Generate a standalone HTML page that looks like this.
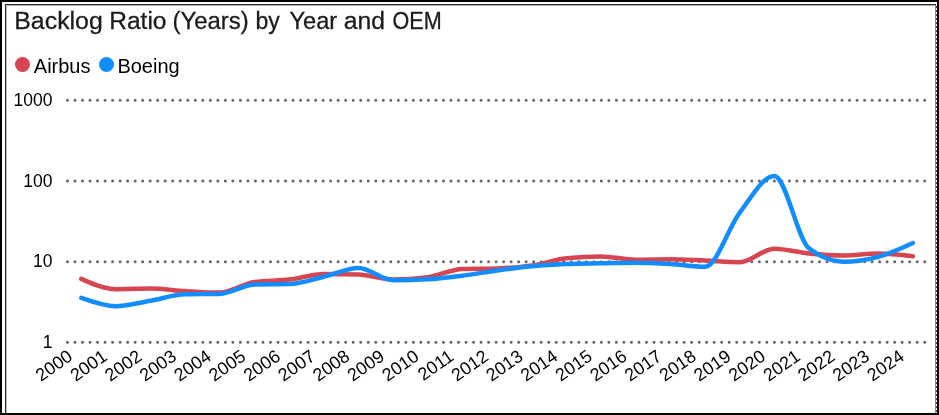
<!DOCTYPE html>
<html><head><meta charset="utf-8"><style>
html,body{margin:0;padding:0;background:#fff;}
body{width:939px;height:415px;position:relative;overflow:hidden;font-family:"Liberation Sans",Arial,sans-serif;}
.b{position:absolute;}
.dot{position:absolute;width:15px;height:15px;border-radius:50%;top:57px;}
svg{position:absolute;left:0;top:0;}
.g{stroke:#666;stroke-width:3;stroke-linecap:round;stroke-dasharray:0 7.52;}
.yl{font-family:"Liberation Sans",sans-serif;font-size:17.5px;fill:#000;text-anchor:end;}
.xl{font-family:"Liberation Sans",sans-serif;font-size:18px;fill:#000;text-anchor:end;}
.tt{font-family:"Liberation Sans",sans-serif;font-size:24.2px;fill:#1c1c1c;stroke:#1c1c1c;stroke-width:0.3px;}
.lg{font-family:"Liberation Sans",sans-serif;font-size:20px;fill:#000;}
.ln{fill:none;stroke-width:4.5;stroke-linecap:round;stroke-linejoin:round;}
</style></head><body>
<div class="b" style="left:0;top:0;width:939px;height:2px;background:#000"></div>
<div class="b" style="left:0;top:413px;width:939px;height:2px;background:#000"></div>
<div class="b" style="left:0;top:0;width:2px;height:415px;background:#000"></div>
<div class="b" style="left:937px;top:0;width:2px;height:415px;background:#000"></div>
<div class="b" style="left:5px;top:4px;width:931px;height:1px;background:#2a2a2a"></div>
<div class="b" style="left:6px;top:5px;width:929px;height:1px;background:#b0b0b0"></div>
<div class="b" style="left:5px;top:4px;width:1px;height:409px;background:#2a2a2a"></div>
<div class="b" style="left:6px;top:5px;width:1px;height:408px;background:#c0c0c0"></div>
<div class="b" style="left:935px;top:5px;width:1px;height:408px;background:#8a8a8a"></div>
<div class="b" style="left:936px;top:4px;width:1px;height:409px;background:repeating-linear-gradient(to bottom,#fff 0,#fff 2px,#444 2px,#444 4px)"></div>
<div class="dot" style="left:15px;background:#D64550"></div>
<div class="dot" style="left:99px;background:#118DFF"></div>
<svg width="939" height="415" viewBox="0 0 939 415">
<line x1="67.45" y1="100.3" x2="926.5" y2="100.3" class="g"/>
<line x1="67.45" y1="181.0" x2="926.5" y2="181.0" class="g"/>
<line x1="67.45" y1="261.7" x2="926.5" y2="261.7" class="g"/>
<line x1="67.45" y1="342.3" x2="926.5" y2="342.3" class="g"/>
<text x="52.5" y="105.9" class="yl">1000</text>
<text x="52.5" y="186.6" class="yl">100</text>
<text x="52.5" y="267.3" class="yl">10</text>
<text x="52.5" y="347.9" class="yl">1</text>
<text transform="translate(73.80,359) rotate(-35)" class="xl">2000</text>
<text transform="translate(108.45,359) rotate(-35)" class="xl">2001</text>
<text transform="translate(143.10,359) rotate(-35)" class="xl">2002</text>
<text transform="translate(177.75,359) rotate(-35)" class="xl">2003</text>
<text transform="translate(212.40,359) rotate(-35)" class="xl">2004</text>
<text transform="translate(247.05,359) rotate(-35)" class="xl">2005</text>
<text transform="translate(281.70,359) rotate(-35)" class="xl">2006</text>
<text transform="translate(316.35,359) rotate(-35)" class="xl">2007</text>
<text transform="translate(351.00,359) rotate(-35)" class="xl">2008</text>
<text transform="translate(385.65,359) rotate(-35)" class="xl">2009</text>
<text transform="translate(420.30,359) rotate(-35)" class="xl">2010</text>
<text transform="translate(454.95,359) rotate(-35)" class="xl">2011</text>
<text transform="translate(489.60,359) rotate(-35)" class="xl">2012</text>
<text transform="translate(524.25,359) rotate(-35)" class="xl">2013</text>
<text transform="translate(558.90,359) rotate(-35)" class="xl">2014</text>
<text transform="translate(593.55,359) rotate(-35)" class="xl">2015</text>
<text transform="translate(628.20,359) rotate(-35)" class="xl">2016</text>
<text transform="translate(662.85,359) rotate(-35)" class="xl">2017</text>
<text transform="translate(697.50,359) rotate(-35)" class="xl">2018</text>
<text transform="translate(732.15,359) rotate(-35)" class="xl">2019</text>
<text transform="translate(766.80,359) rotate(-35)" class="xl">2020</text>
<text transform="translate(801.45,359) rotate(-35)" class="xl">2021</text>
<text transform="translate(836.10,359) rotate(-35)" class="xl">2022</text>
<text transform="translate(870.75,359) rotate(-35)" class="xl">2023</text>
<text transform="translate(905.40,359) rotate(-35)" class="xl">2024</text>
<text transform="translate(14.28,29.4) scale(1.0282,1)" class="tt">Backlog</text>
<text transform="translate(109.2,29.4) scale(1.0148,1)" class="tt">Ratio</text>
<text transform="translate(172.52,29.4) scale(0.9888,1)" class="tt">(Years)</text>
<text transform="translate(255.48,29.4) scale(0.951,1)" class="tt">by</text>
<text transform="translate(289.5,29.4) scale(0.976,1)" class="tt">Year</text>
<text transform="translate(343.8,29.4) scale(1.0226,1)" class="tt">and</text>
<text transform="translate(392.53,29.4) scale(0.8925,1)" class="tt">OEM</text>
<text x="33.8" y="72.8" class="lg">Airbus</text>
<text x="117.4" y="72.8" class="lg">Boeing</text>
<path d="M81.30,278.90C92.85,284.05,104.40,289.20,115.95,289.20C127.50,289.20,139.05,288.50,150.60,288.50C162.15,288.50,173.70,290.42,185.25,291.10C196.80,291.78,208.35,292.60,219.90,292.60C231.45,292.60,243.00,283.60,254.55,282.00C266.10,280.40,277.65,280.93,289.20,279.60C300.75,278.27,312.30,274.00,323.85,274.00C335.40,274.00,346.95,274.17,358.50,274.50C370.05,274.83,381.60,279.40,393.15,279.40C404.70,279.40,416.25,278.67,427.80,277.20C439.35,275.73,450.90,269.23,462.45,268.90C474.00,268.57,485.55,268.73,497.10,268.40C508.65,268.07,520.20,267.18,531.75,265.50C543.30,263.82,554.85,259.57,566.40,258.30C577.95,257.03,589.50,256.40,601.05,256.40C612.60,256.40,624.15,259.80,635.70,259.80C647.25,259.80,658.80,259.30,670.35,259.30C681.90,259.30,693.45,260.12,705.00,260.60C716.55,261.08,728.10,262.20,739.65,262.20C751.20,262.20,762.75,248.80,774.30,248.80C785.85,248.80,797.40,252.38,808.95,253.50C820.50,254.62,832.05,255.50,843.60,255.50C855.15,255.50,866.70,253.40,878.25,253.40C889.80,253.40,901.35,254.80,912.90,256.20" class="ln" stroke="#D64550"/>
<path d="M81.30,297.90C92.85,302.05,104.40,306.20,115.95,306.20C127.50,306.20,139.05,302.68,150.60,300.70C162.15,298.72,173.70,294.57,185.25,294.30C196.80,294.03,208.35,294.17,219.90,293.90C231.45,293.63,243.00,284.67,254.55,284.40C266.10,284.13,277.65,284.27,289.20,284.00C300.75,283.73,312.30,279.48,323.85,276.80C335.40,274.12,346.95,267.90,358.50,267.90C370.05,267.90,381.60,280.30,393.15,280.30C404.70,280.30,416.25,279.97,427.80,279.30C439.35,278.63,450.90,277.18,462.45,275.70C474.00,274.22,485.55,271.98,497.10,270.40C508.65,268.82,520.20,267.27,531.75,266.20C543.30,265.13,554.85,264.47,566.40,264.00C577.95,263.53,589.50,263.52,601.05,263.30C612.60,263.08,624.15,262.70,635.70,262.70C647.25,262.70,658.80,263.32,670.35,264.00C681.90,264.68,693.45,266.80,705.00,266.80C716.55,266.80,728.10,227.95,739.65,212.80C751.20,197.65,762.75,175.90,774.30,175.90C785.85,175.90,797.40,239.37,808.95,248.30C820.50,257.23,832.05,261.70,843.60,261.70C855.15,261.70,866.70,259.92,878.25,256.80C889.80,253.68,901.35,248.34,912.90,243.00" class="ln" stroke="#118DFF"/>
</svg>
</body></html>
